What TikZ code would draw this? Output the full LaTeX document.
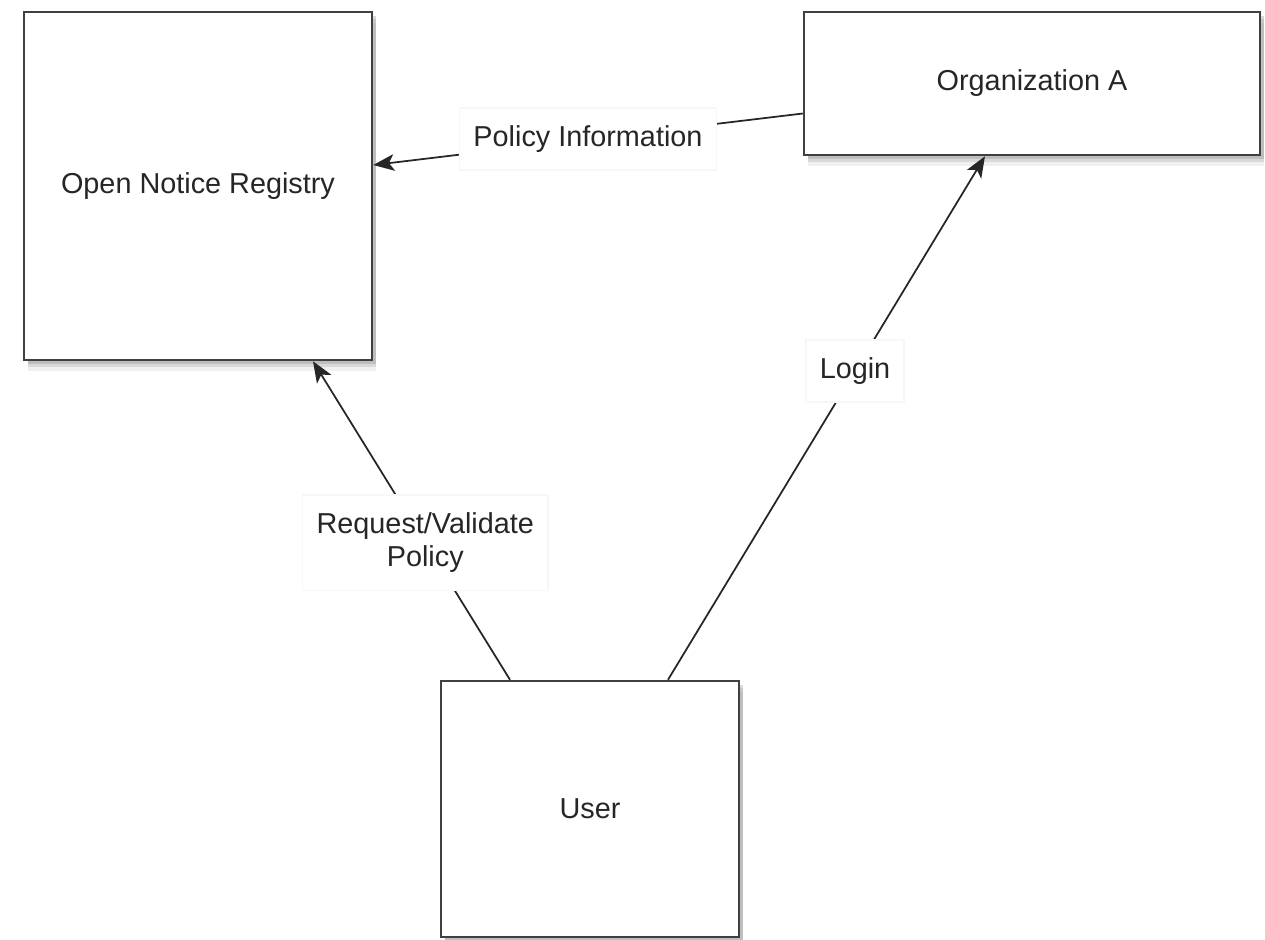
\documentclass[tikz,border=0pt]{standalone}
\usepackage{fontspec}
\setmainfont{Liberation Sans}
\usetikzlibrary{calc, arrows.meta, shadows}

\begin{document}
\begin{tikzpicture}[
    box/.style={rectangle, draw=black!75, line width=1.4pt, fill=white, text=black!85, font=\fontsize{16.4}{19}\selectfont,
        drop shadow={shadow xshift=2pt, shadow yshift=-6pt, opacity=0.12},
        drop shadow={shadow xshift=2.5pt, shadow yshift=-4pt, opacity=0.2},
        drop shadow={shadow xshift=2pt, shadow yshift=-2.5pt, opacity=0.3}},
    flow/.style={-{Stealth[length=12pt, width=9.5pt, inset=3pt]}, line width=1pt, black!85},
    tag/.style={fill=white, draw=black!3, inner xsep=8pt, inner ysep=10pt, align=center, text=black!85, font=\fontsize{16.4}{19}\selectfont}
]

    % Marco de la figura
    \useasboundingbox (0,0) rectangle (25.3,-18.78);

    % Cajas principales
    \node[box, minimum width=6.96cm, minimum height=6.96cm] (registry) at (3.96,-3.72) {Open Notice Registry};
    \node[box, minimum width=9.12cm, minimum height=2.86cm] (orgA) at (20.64,-1.67) {Organization A};
    \node[box, minimum width=5.96cm, minimum height=5.12cm] (user) at (11.8,-16.18) {User};

    % Puntos de anclaje de las flechas
    \coordinate (polStart) at ($ (orgA.west) + (0,-0.6) $);
    \coordinate (polEnd) at ($ (registry.east) + (0,0.42) $);
    \coordinate (reqStart) at ($ (user.north) + (-1.6,0) $);
    \coordinate (reqEnd) at ($ (registry.south) + (2.3,0) $);
    \coordinate (logStart) at ($ (user.north) + (1.56,0) $);
    \coordinate (logEnd) at ($ (orgA.south) + (-0.94,0) $);

    % Flechas con etiquetas
    \draw[flow] (polStart) -- (polEnd) node[midway, tag] {Policy Information};
    \draw[flow] (reqStart) -- (reqEnd) node[pos=0.43, tag] {Request/Validate\\Policy};
    \draw[flow] (logStart) -- (logEnd) node[pos=0.59, tag] {Login};

\end{tikzpicture}
\end{document}
